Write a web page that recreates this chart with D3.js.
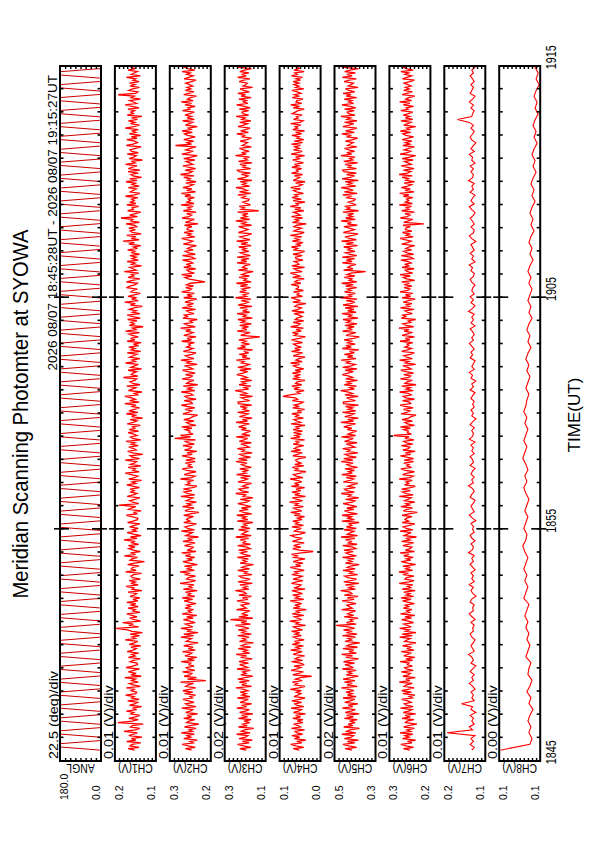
<!DOCTYPE html>
<html>
<head>
<meta charset="utf-8">
<script src="https://cdn.jsdelivr.net/npm/d3@7"></script>
<style>
  body { margin: 0; background: #fff; }
  svg { display: block; }
  text { font-family: "Liberation Sans", Arial, sans-serif; fill: #000; }
</style>
</head>
<body>
<svg id="chart" width="595" height="842"></svg>
<script>
// ---- data ----
const channels = ['ANGL', 'CH1(V)', 'CH2(V)', 'CH3(V)', 'CH4(V)', 'CH5(V)', 'CH6(V)', 'CH7(V)', 'CH8(V)'];
const topLabels = ['180.0', '0.2', '0.3', '0.3', '0.1', '0.5', '0.3', '0.2', '0.1'];
const bottomLabels = ['0.0', '0.1', '0.2', '0.1', '0.0', '0.3', '0.2', '0.1', '0.1'];
const perDiv = ['22.5 (deg)/div', '0.01 (V)/div', '0.01 (V)/div', '0.02 (V)/div', '0.01 (V)/div',
                '0.02 (V)/div', '0.01 (V)/div', '0.01 (V)/div', '0.00 (V)/div'];
// value ranges (deg for ANGL, mV for the channels)
const ranges = [[0, 180], [100, 200], [200, 300], [100, 300], [0, 100], [300, 500], [200, 300], [100, 200], [100, 140]];
const divisions = [8, 10, 10, 10, 10, 10, 10, 10, 10];

// time axis, minutes after 18:45 UT
const timeTicks = [0, 10, 20, 30];
const timeLabels = ['1845', '1855', '1905', '1915'];
const dataStart = 28 / 60;       // 18:45:28
const dataEnd = 30 + 27 / 60;    // 19:15:27

// scan angle: quick sweep, short rest at each end
const angl = [
  0,180,180,0, 0,180,180,0, 0,180,180,0, 0,180,180,0, 0,180,180,0, 0,180,180,0,
  0,180,180,0, 0,180,180,0, 0,180,180,0, 0,180,180,0, 0,180,180,0, 0,180,180,0,
  0,180,180,0, 0,180,180,0, 0,180,180,0, 0,180,180,0, 0,180,180,0, 0,180,180,0,
  0,180,180,0, 0,180,180,0, 0,180,180,0, 0,180,180,0, 0,180,180,0, 0,180,180,0,
  0,180,180,0, 0,180,180,0, 0,180,180,0, 0,180,180,0, 0,180,180,0, 0,180,180,0,
  0,180,180,0, 0,180,180,0, 0,180,180,0, 0,180,180,0, 0,180,180,0, 0,180,180,0,
  0,180,180,0, 0,180,180,0, 0,180,180,0, 0,180,180,0, 0,180,180,0, 0,180,180,0,
  0,180,180,0, 0,180,180,0, 0,180,180,0, 0,180,180,0, 0,180,180,0, 0,180,180,0,
  0,180,180,0, 0,180,180,0, 0,180,180,0, 0,180,180,0, 0,180,180,0, 0,180,180,0
];

const ch1 = [
  152,168,141,163,158,137,171,149,160,134,166,155,145,178,150,139,162,157,131,193,
  158,143,166,150,139,161,154,172,147,157,135,164,152,145,169,141,159,153,174,149,
  147,160,153,172,138,156,165,143,159,150,176,136,161,148,167,154,140,173,157,145,
  146,163,155,138,167,151,159,142,170,156,148,161,137,165,153,144,175,150,158,140,
  163,133,158,170,197,142,166,155,181,137,152,164,146,159,171,139,156,150,168,143,
  160,149,171,144,156,139,163,152,147,168,134,158,154,173,143,161,150,165,138,157,
  161,154,135,174,148,160,157,141,169,152,128,163,158,145,177,150,162,138,155,166,
  151,167,142,159,153,178,146,162,136,155,170,148,157,143,164,152,139,169,156,145,
  144,159,172,147,153,136,167,160,149,190,142,157,164,151,139,170,155,146,161,153,
  163,140,154,171,149,158,135,166,152,144,160,175,141,156,150,168,137,162,153,147,
  175,140,158,163,132,156,169,148,154,166,143,160,151,173,137,157,162,146,155,168,
  142,165,151,157,138,170,155,146,163,132,159,150,172,144,166,153,140,158,149,176,
  141,164,150,159,176,145,153,134,167,158,149,171,139,156,163,152,147,179,144,160,
  156,147,168,135,161,152,143,174,150,158,139,164,155,146,170,137,160,151,166,142,
  155,136,170,151,162,143,158,166,140,174,149,157,131,165,153,161,146,169,138,156,
  170,139,157,148,165,154,133,162,150,176,143,159,147,168,153,138,161,156,145,172,
  163,150,145,172,157,139,168,154,160,142,177,148,156,164,135,159,151,170,143,158,
  148,163,140,158,151,169,145,155,137,166,152,180,141,160,149,171,136,157,163,150,
  166,147,153,173,140,161,156,185,145,164,150,137,169,155,158,142,171,149,162,153,
  159,144,174,152,139,162,155,148,167,141,158,150,173,146,164,135,156,161,143,168,
  139,167,157,146,174,151,160,133,165,154,148,170,143,159,163,150,136,172,156,145,
  152,171,146,160,137,165,149,157,143,175,154,140,162,151,167,145,159,134,170,155,
  161,152,168,141,158,175,147,155,164,138,160,153,192,149,144,166,157,140,163,151,
  164,141,156,149,172,138,160,153,145,168,150,162,139,157,174,147,155,166,142,159
];

const ch2 = [
  247,262,238,255,270,243,251,233,266,249,258,240,272,245,253,236,264,250,229,259,
  253,239,266,247,258,232,261,250,244,271,236,256,262,241,254,268,245,251,237,264,
  244,268,252,237,261,255,242,274,212,257,235,265,251,246,269,239,256,260,241,253,
  249,272,240,257,234,263,252,246,269,238,255,243,266,250,231,260,254,247,273,242,
  266,231,258,249,273,244,254,262,238,251,267,243,259,234,270,248,255,242,263,250,
  258,236,251,265,244,270,239,256,249,262,233,267,246,253,241,275,250,237,259,255,
  237,261,253,275,240,257,246,264,233,252,268,245,256,239,262,249,271,236,258,247,
  243,264,252,238,268,247,257,230,261,253,245,272,240,256,263,248,235,266,251,259,
  255,242,266,250,229,263,254,241,269,248,257,235,260,252,244,273,239,256,265,246,
  267,245,234,260,251,256,242,274,247,239,265,253,236,258,270,244,255,249,262,238,
  261,238,252,270,245,258,234,264,251,247,268,240,255,262,237,288,249,274,243,253,
  251,262,246,271,236,253,259,241,266,250,244,232,268,255,247,263,239,257,272,245,
  248,265,236,257,263,244,251,272,239,256,246,267,232,259,253,241,270,250,245,262,
  238,256,269,244,252,264,233,258,249,273,241,255,262,246,236,267,253,243,259,250,
  254,240,271,247,258,236,266,252,243,261,249,274,238,256,264,245,251,233,268,257,
  264,241,253,259,237,270,248,256,242,263,251,234,266,245,258,240,271,252,247,261,
  242,259,250,214,235,255,263,246,271,240,253,258,237,266,248,260,244,252,269,239,
  246,269,238,254,262,243,257,250,235,267,253,244,260,271,239,256,248,265,242,258,
  257,246,264,231,262,251,240,270,254,247,259,236,267,249,256,243,273,241,258,250,
  255,240,263,249,272,237,259,246,268,252,243,261,236,257,250,266,241,274,253,245,
  263,237,255,268,244,252,260,239,266,248,233,271,253,245,261,250,236,286,247,258,
  242,266,251,238,257,264,245,270,248,255,233,262,252,244,269,240,258,247,263,251,
  240,269,251,256,238,263,247,272,243,257,250,235,266,254,241,262,249,258,244,252,
  261,247,236,265,254,243,259,250,270,239,256,264,245,252,238,267,249,257,243,260
];

const ch3 = [
  195,226,172,208,238,181,214,165,230,199,187,242,176,219,203,158,233,190,211,178,
  206,171,233,189,218,162,227,199,180,241,193,212,168,225,204,185,238,177,215,196,
  224,186,206,245,169,217,193,229,180,236,201,163,221,196,212,175,240,188,205,227,
  184,230,201,166,222,193,244,178,209,190,234,172,219,203,160,228,197,213,181,236,
  170,215,198,234,182,209,248,174,220,192,272,163,231,186,214,199,177,243,195,208,
  219,178,207,240,186,214,169,231,195,204,248,182,210,191,226,165,235,200,176,217,
  228,167,204,191,237,179,216,200,160,225,194,211,184,239,173,206,222,189,232,176,
  192,237,174,210,199,224,183,246,170,216,203,188,232,176,221,194,207,163,239,187,
  213,196,241,168,207,229,185,218,171,202,236,193,180,224,162,210,198,246,183,219,
  230,182,213,197,169,235,206,188,222,175,242,196,211,184,227,170,203,218,191,245,
  190,233,174,209,226,166,215,203,238,181,197,221,170,229,206,188,244,177,212,195,
  173,219,194,232,207,180,245,189,214,166,228,201,186,237,179,210,195,224,168,233,
  235,178,202,219,164,227,192,210,249,183,205,173,230,198,216,168,223,190,208,241,
  211,188,226,171,236,199,180,218,205,243,176,215,192,229,183,207,164,238,198,221,
  179,214,196,231,187,128,222,204,176,239,192,212,184,227,170,218,201,236,165,209,
  196,240,178,213,189,226,167,234,203,185,219,172,247,194,210,181,227,199,215,174,
  224,188,243,171,206,194,230,180,217,199,161,234,189,213,202,175,240,193,220,182,
  239,175,207,224,182,212,196,231,171,220,188,242,177,204,225,190,168,233,209,186,
  207,232,169,215,197,246,178,223,191,210,186,237,134,219,204,229,174,196,212,185,
  181,216,199,236,173,228,190,209,245,179,213,196,224,167,238,201,186,219,175,230,
  238,173,211,199,226,167,233,190,205,179,247,195,218,181,208,228,170,214,200,189,
  225,192,170,214,203,241,184,222,197,176,235,208,189,227,172,216,200,244,183,211,
  216,183,229,176,203,242,187,209,194,231,171,220,198,236,180,207,225,164,211,196,
  190,229,208,177,237,195,218,182,226,204,169,240,193,213,186,231,174,221,202,179
];

const ch4 = [
  52,67,41,60,73,46,58,36,64,51,70,44,57,62,39,71,49,55,66,43,
  57,43,68,49,61,37,66,54,47,72,41,59,63,46,70,52,38,65,56,48,
  59,47,74,53,38,63,56,69,45,61,50,22,68,54,42,72,57,48,65,40,
  50,71,44,62,55,39,67,58,45,73,51,60,42,69,53,64,40,57,66,47,
  62,51,71,44,58,66,37,60,53,75,46,56,64,41,69,52,59,35,67,50,
  63,46,58,74,41,61,52,68,44,56,70,38,65,53,48,71,59,43,67,54,
  45,70,55,63,40,58,74,48,61,43,67,54,38,65,57,71,47,18,52,68,
  48,66,55,40,69,57,45,63,72,50,37,64,58,47,70,42,61,54,68,45,
  56,39,64,50,73,46,59,66,42,62,55,76,44,57,69,37,63,51,70,48,
  60,39,71,52,64,46,57,74,43,59,66,50,36,62,55,69,41,63,48,57,
  61,53,36,68,57,45,72,49,64,58,41,67,54,60,39,73,50,62,47,66,
  44,67,53,60,38,72,49,58,65,42,61,54,70,46,57,39,68,52,64,50,
  43,69,56,62,92,75,51,58,40,65,54,70,46,61,57,38,68,53,63,49,
  69,48,62,41,57,66,51,73,45,60,53,38,67,56,44,71,50,63,47,59,
  66,44,59,71,52,37,64,56,69,47,60,42,73,55,50,67,41,62,58,45,
  52,65,40,70,55,47,63,58,36,68,49,61,72,44,57,53,66,42,60,54,
  54,72,48,63,57,40,68,51,61,74,45,59,65,39,70,53,56,64,43,60,
  61,45,67,51,39,64,56,71,48,58,43,69,52,62,46,74,50,40,65,57,
  47,65,58,35,69,54,62,44,71,50,57,66,41,63,48,74,55,60,38,67,
  47,70,56,63,42,59,66,49,73,53,45,61,38,67,58,51,64,44,71,55,
  59,46,70,53,64,42,57,68,50,61,39,72,56,45,66,52,63,49,71,44,
  64,41,58,52,70,46,61,39,68,56,62,48,73,50,43,66,55,59,45,69,
  62,55,40,67,51,73,46,60,58,43,69,54,64,48,57,70,41,61,53,65,
  53,67,49,60,44,71,57,63,40,65,52,58,47,69,61,42,56,72,50,62
];

const ch5 = [
  415,448,392,430,459,401,437,383,452,418,407,464,396,441,425,378,455,410,433,399,
  426,389,452,408,441,379,447,419,398,462,411,433,386,450,423,401,458,395,437,414,
  444,405,428,466,389,439,413,451,400,458,421,384,443,416,434,395,462,408,426,449,
  402,456,418,383,445,412,466,393,430,406,459,388,440,425,377,449,417,434,397,461,
  390,437,419,456,402,431,492,394,442,412,424,385,453,406,436,420,397,465,414,429,
  439,395,427,463,404,438,385,452,415,424,470,398,431,410,447,381,455,420,392,436,
  450,387,426,411,459,399,438,422,380,447,415,433,404,461,393,428,444,409,454,396,
  411,460,390,432,419,446,400,468,387,437,421,405,453,394,442,416,428,380,464,403,
  435,417,463,388,429,451,405,440,391,423,458,413,400,446,382,432,419,467,403,441,
  451,398,435,414,386,457,424,406,443,393,465,413,432,402,449,388,426,440,409,467,
  410,455,394,431,448,386,437,424,460,401,418,443,390,451,427,408,466,397,434,416,
  392,438,416,455,428,397,469,407,436,384,450,420,404,461,396,433,412,446,383,456,
  457,398,423,441,384,449,412,432,470,403,426,393,452,420,438,388,445,411,429,462,
  433,408,448,390,460,419,399,441,425,467,395,437,411,452,403,427,381,462,418,444,
  399,436,417,453,407,379,444,425,396,461,413,434,404,449,390,440,422,458,385,431,
  417,464,395,436,405,449,386,458,422,401,443,390,471,413,431,398,451,420,437,392,
  446,409,465,391,428,415,452,401,439,420,348,456,410,435,423,395,462,414,442,402,
  462,391,428,447,400,434,418,455,388,444,407,466,394,426,449,410,385,457,430,403,
  427,454,389,437,418,468,398,445,412,432,406,459,383,441,425,450,394,416,433,405,
  399,439,421,460,389,452,409,430,468,396,435,415,448,384,463,424,402,441,393,454,
  460,393,433,420,448,387,455,411,427,400,469,416,440,402,430,451,391,436,422,409,
  447,411,387,437,423,465,403,446,419,391,459,428,406,451,390,439,421,469,400,432,
  438,404,451,396,424,464,407,431,415,453,392,443,419,458,401,429,447,385,433,418,
  408,453,429,393,462,414,440,398,450,425,384,466,412,435,404,456,394,445,424,397
];

const ch6 = [
  250,266,241,259,272,245,256,236,268,252,262,243,274,248,257,239,265,253,233,261,
  257,240,269,249,262,236,266,253,245,273,242,259,264,247,255,270,244,252,238,267,
  246,270,255,240,264,258,244,276,250,260,237,267,254,249,271,242,259,263,244,256,
  252,274,243,260,238,265,255,248,271,240,258,246,268,251,235,263,257,249,275,244,
  269,235,261,252,275,247,257,265,241,254,270,246,262,238,273,251,258,245,266,253,
  261,239,254,268,247,272,241,259,250,265,237,269,248,256,243,276,252,240,262,258,
  240,264,256,277,243,260,249,267,236,255,271,248,259,242,265,252,274,239,261,250,
  245,267,255,241,270,250,260,234,264,256,247,274,243,258,266,251,238,269,253,262,
  258,245,269,253,232,266,257,244,272,251,260,238,263,255,247,276,242,259,268,249,
  270,248,237,263,253,259,244,276,250,242,268,256,239,261,272,246,257,252,265,241,
  264,241,255,273,248,261,237,267,254,250,271,243,258,265,240,262,252,290,246,256,
  254,265,249,273,239,256,262,244,269,253,247,235,271,258,250,266,242,260,274,248,
  251,268,239,260,266,247,254,275,242,259,249,270,235,262,256,244,273,253,248,265,
  241,259,272,247,255,267,236,261,252,275,244,258,265,249,239,270,256,246,262,253,
  257,243,274,250,261,239,269,255,246,264,252,277,241,259,267,248,254,236,271,260,
  267,244,256,262,240,273,251,259,245,266,254,237,269,248,261,243,274,255,250,264,
  245,262,253,270,238,258,266,249,274,243,256,261,240,269,251,263,247,255,272,242,
  249,271,241,257,265,246,260,253,238,270,256,247,263,274,242,259,251,268,245,261,
  260,249,267,216,265,254,243,273,257,250,262,239,270,252,259,246,276,244,261,253,
  258,243,266,252,275,240,262,249,271,255,246,264,239,260,253,269,244,276,256,248,
  266,240,258,271,247,255,263,242,269,251,236,274,256,248,264,253,239,267,250,261,
  245,269,254,241,260,267,248,273,251,258,236,265,255,247,272,243,261,250,266,254,
  243,272,254,259,241,266,250,275,246,260,253,238,269,257,244,265,252,261,247,255,
  264,250,239,268,257,246,262,253,272,242,259,267,248,255,241,270,252,260,246,263
];

const ch7 = [
  133,127,137,129,135,125,193,131,139,127,133,129,137,123,135,131,158,127,133,129,
  135,125,131,139,129,133,127,137,131,123,135,129,133,141,127,131,135,129,125,133,
  137,129,131,127,135,125,133,139,129,131,127,137,133,123,131,135,129,139,127,133,
  129,135,125,131,137,129,133,127,141,131,129,135,125,133,137,127,131,129,135,123,
  133,139,127,131,135,129,125,137,133,127,131,141,129,133,127,135,131,125,137,129,
  131,137,127,133,129,135,125,139,131,129,133,127,137,131,123,133,129,135,127,131,
  127,135,131,125,137,129,133,123,135,131,139,127,133,129,125,137,131,135,127,133,
  139,129,133,127,131,137,125,135,129,133,127,141,131,125,135,129,137,127,133,131,
  125,133,137,129,127,135,131,139,125,133,129,137,127,131,135,123,133,139,129,127,
  135,127,131,137,129,125,133,139,127,135,131,125,137,129,133,127,141,131,129,135,
  129,137,125,133,131,139,127,135,129,123,133,137,131,127,135,129,139,168,133,131,
  127,135,129,139,131,125,137,133,129,135,127,131,137,129,133,125,135,131,127,133
];

const ch8 = [
  139,110,108,111,109,112,110,107,111,109,113,110,108,112,111,109,114,112,110,113,
  111,114,112,115,113,111,116,114,112,115,113,116,114,112,115,117,114,113,116,114,
  112,115,113,111,114,116,113,115,112,114,117,115,113,116,114,112,115,113,116,114,
  113,111,114,112,110,113,111,114,112,109,112,110,113,111,108,111,109,112,110,108,
  111,109,112,110,107,110,108,111,109,106,109,107,110,108,105,108,106,109,107,104,
  107,105,108,106,103,106,104,107,105,102,105,103,106,104,101,104,102,105,103,104
];

const series = [angl, ch1, ch2, ch3, ch4, ch5, ch6, ch7, ch8];

// ---- layout (drawn in a landscape frame, then turned onto the portrait page) ----
const PAGE_H = 842;
const PLOT = { left: 81, right: 776 };
const PANEL = { top: 60, step: 54.9, height: 41 };

const svg = d3.select('#chart');
const root = svg.append('g')
  .attr('transform', `translate(0,${PAGE_H}) rotate(-90)`);

const x = d3.scaleLinear().domain([0, 30]).range([PLOT.left, PLOT.right]);
const minuteTicks = d3.range(1, 30);
const majorTicks = [10, 20];

// text with a horizontal squeeze/stretch (the plot font is narrower than Arial)
function label(g, px, py, str, size, rot, sx, anchor) {
  return g.append('text')
    .attr('transform', `translate(${px},${py}) rotate(${rot}) scale(${sx},1)`)
    .attr('font-size', size)
    .attr('text-anchor', anchor)
    .text(str);
}

// title block
label(root, 428, 28, 'Meridian Scanning Photomter at SYOWA', 22, 0, 0.92, 'middle');
label(root, 767, 57, '2026 08/07 18:45:28UT - 2026 08/07 19:15:27UT', 13.5, 0, 1, 'end');
label(root, 427, 580, 'TIME(UT)', 17, 0, 1, 'middle');

const defs = svg.append('defs');

series.forEach((values, i) => {
  const top = PANEL.top + i * PANEL.step;
  const bottom = top + PANEL.height;
  const y = d3.scaleLinear().domain(ranges[i]).range([bottom, top]);
  const g = root.append('g').attr('class', 'panel');

  defs.append('clipPath').attr('id', 'clip' + i)
    .append('rect')
    .attr('x', PLOT.left).attr('y', top)
    .attr('width', PLOT.right - PLOT.left).attr('height', PANEL.height);

  // trace
  const dt = (dataEnd - dataStart) / (values.length - 1);
  const line = d3.line()
    .x((d, k) => x(dataStart + k * dt))
    .y(d => y(d));
  g.append('path')
    .datum(values)
    .attr('clip-path', `url(#clip${i})`)
    .attr('d', line)
    .attr('fill', 'none')
    .attr('stroke', i === 0 ? '#cc0000' : '#ff0000')
    .attr('stroke-width', i === 0 ? 1 : (i <= 6 ? 1.3 : 1.1));

  // time ticks, inward on both edges; the 10-minute ones also poke outward
  const minorTop = d3.axisTop(x).tickValues(minuteTicks).tickSize(-3.5).tickFormat('');
  const minorBot = d3.axisBottom(x).tickValues(minuteTicks).tickSize(-3.5).tickFormat('');
  const majIn = d3.axisBottom(x).tickValues(majorTicks).tickSize(-9).tickFormat('');
  const majOut = d3.axisBottom(x).tickValues(majorTicks).tickSize(6).tickFormat('');
  const majInT = d3.axisTop(x).tickValues(majorTicks).tickSize(-9).tickFormat('');
  const majOutT = d3.axisTop(x).tickValues(majorTicks).tickSize(6).tickFormat('');
  [[minorTop, top], [majInT, top], [majOutT, top], [minorBot, bottom], [majIn, bottom], [majOut, bottom]]
    .forEach(([ax, pos]) => {
      const a = g.append('g').attr('transform', `translate(0,${pos})`).call(ax);
      a.select('.domain').remove();
      a.selectAll('line').attr('stroke', '#000').attr('stroke-width', 1.6);
    });

  // value ticks, one per division
  const divTicks = d3.range(1, divisions[i]).map(k => ranges[i][0] + k * (ranges[i][1] - ranges[i][0]) / divisions[i]);
  [[d3.axisLeft(y), PLOT.left], [d3.axisRight(y), PLOT.right]].forEach(([ax, pos]) => {
    const a = g.append('g').attr('transform', `translate(${pos},0)`)
      .call(ax.tickValues(divTicks).tickSize(-3).tickFormat(''));
    a.select('.domain').remove();
    a.selectAll('line').attr('stroke', '#000').attr('stroke-width', 1.4);
  });

  // frame
  g.append('rect')
    .attr('x', PLOT.left).attr('y', top)
    .attr('width', PLOT.right - PLOT.left).attr('height', PANEL.height)
    .attr('fill', 'none').attr('stroke', '#000').attr('stroke-width', 2);

  // labels
  label(g, 83, top - 2, perDiv[i], 12, 0, 1.2, 'start');
  label(g, 78, (top + bottom) / 2, channels[i], 13, -90, 0.8, 'middle');
  label(g, 42, top + 8, topLabels[i], 10.5, 0, 1, 'start');
  label(g, 42, bottom - 1, bottomLabels[i], 10.5, 0, 1, 'start');

  // time labels under the last panel
  if (i === series.length - 1) {
    const ta = g.append('g').attr('transform', `translate(0,${bottom})`)
      .call(d3.axisBottom(x).tickValues(timeTicks).tickSize(0).tickFormat((d, k) => timeLabels[k]));
    ta.select('.domain').remove();
    ta.selectAll('.tick text')
      .attr('x', -5).attr('y', 16).attr('dy', 0)
      .attr('text-anchor', 'start')
      .attr('font-size', 14)
      .attr('font-family', '"Liberation Sans", Arial, sans-serif')
      .attr('transform', 'scale(0.77,1)');
  }
});
</script>
</body>
</html>
